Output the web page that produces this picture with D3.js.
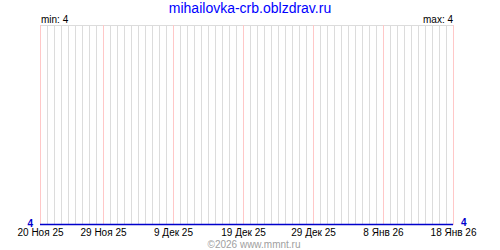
<!DOCTYPE html>
<html>
<head>
<meta charset="utf-8">
<script src="https://cdn.jsdelivr.net/npm/d3@7"></script>
<style>
  body { margin: 0; background: #fff; }
  svg { display: block; }
  text { font-family: "Liberation Sans", Arial, sans-serif; }
</style>
</head>
<body>
<div id="app"></div>
<script>
const title = "mihailovka-crb.oblzdrav.ru"
const footer = "\u00a92026 www.mmnt.ru"

// one value per day, 20 Nov 2025 .. 18 Jan 2026
const startDay = new Date(2025, 10, 20)
const values = [
  4, 4, 4, 4, 4, 4, 4, 4, 4, 4,
  4, 4, 4, 4, 4, 4, 4, 4, 4, 4,
  4, 4, 4, 4, 4, 4, 4, 4, 4, 4,
  4, 4, 4, 4, 4, 4, 4, 4, 4, 4,
  4, 4, 4, 4, 4, 4, 4, 4, 4, 4,
  4, 4, 4, 4, 4, 4, 4, 4, 4, 4,
]

const tickDates = [
  new Date(2025, 10, 20), new Date(2025, 10, 29), new Date(2025, 11, 9),
  new Date(2025, 11, 19), new Date(2025, 11, 29), new Date(2026, 0, 8),
  new Date(2026, 0, 18),
]
const tickLabels = ["20 Ноя 25", "29 Ноя 25", "9 Дек 25", "19 Дек 25", "29 Дек 25", "8 Янв 26", "18 Янв 26"]

const W = 500, H = 250
const m = { left: 40, right: 453, top: 25, bottom: 225 }

const data = values.map((v, i) => ({ date: d3.timeDay.offset(startDay, i), v }))
const days = data.map(d => d.date)

const x = d3.scaleTime()
  .domain([days[0], days[days.length - 1]])
  .range([m.left, m.right])

const vMin = d3.min(values), vMax = d3.max(values)
const y = d3.scaleLinear()
  .domain(vMin === vMax ? [vMin, vMin + 1] : [vMin, vMax])
  .range([m.bottom, m.top])

const svg = d3.select("#app").append("svg")
  .attr("width", W)
  .attr("height", H)

// daily grid
svg.append("g")
    .attr("stroke", "#dcdcdc")
    .attr("stroke-width", 1)
  .selectAll("line")
  .data(days)
  .join("line")
    .attr("x1", d => Math.round(x(d)) + 0.5)
    .attr("x2", d => Math.round(x(d)) + 0.5)
    .attr("y1", m.top)
    .attr("y2", m.bottom)

// top border
svg.append("line")
    .attr("x1", m.left).attr("x2", m.right + 1)
    .attr("y1", m.top + 0.5).attr("y2", m.top + 0.5)
    .attr("stroke", "#dcdcdc")

// labelled day lines
svg.append("g")
    .attr("stroke", "#ffc8c8")
  .selectAll("line")
  .data(tickDates)
  .join("line")
    .attr("x1", d => Math.round(x(d)) + 0.5)
    .attr("x2", d => Math.round(x(d)) + 0.5)
    .attr("y1", m.top)
    .attr("y2", m.bottom)

// x axis labels
const xAxis = d3.axisBottom(x)
  .tickValues(tickDates)
  .tickFormat((d, i) => tickLabels[i])
  .tickSize(0)
  .tickPadding(4)

svg.append("g")
    .attr("transform", `translate(0,${m.bottom})`)
    .call(xAxis)
    .call(g => g.select(".domain").remove())
    .call(g => g.selectAll("text")
      .attr("font-family", "Liberation Sans, Arial, sans-serif")
      .attr("font-size", 10)
      .attr("fill", "#000"))

// series
const line = d3.line()
  .x(d => x(d.date))
  .y(d => y(d.v) - 0.5)

svg.append("path")
    .datum(data)
    .attr("fill", "none")
    .attr("stroke", "#0000cc")
    .attr("stroke-width", 1.5)
    .attr("d", line)

// first / last value
svg.append("text")
    .attr("x", m.left - 7)
    .attr("y", y(values[0]) + 1.5)
    .attr("text-anchor", "end")
    .attr("font-size", 10)
    .attr("font-weight", "bold")
    .attr("fill", "#0000cc")
    .text(values[0])

svg.append("text")
    .attr("x", m.right + 8)
    .attr("y", y(values[values.length - 1]) + 1)
    .attr("font-size", 10)
    .attr("font-weight", "bold")
    .attr("fill", "#0000cc")
    .text(values[values.length - 1])

svg.append("text")
    .attr("x", m.left + 1)
    .attr("y", m.top - 2.5)
    .attr("font-size", 10)
    .text(`min: ${vMin}`)

svg.append("text")
    .attr("x", m.right)
    .attr("y", m.top - 2.5)
    .attr("text-anchor", "end")
    .attr("font-size", 10)
    .text(`max: ${vMax}`)

svg.append("text")
    .attr("x", W / 2)
    .attr("y", 13)
    .attr("text-anchor", "middle")
    .attr("font-size", 14)
    .attr("fill", "#0000ff")
    .text(title)

svg.append("text")
    .attr("x", 254)
    .attr("y", 247.5)
    .attr("text-anchor", "middle")
    .attr("font-size", 10)
    .attr("fill", "#a0a0a0")
    .text(footer)
</script>
</body>
</html>
